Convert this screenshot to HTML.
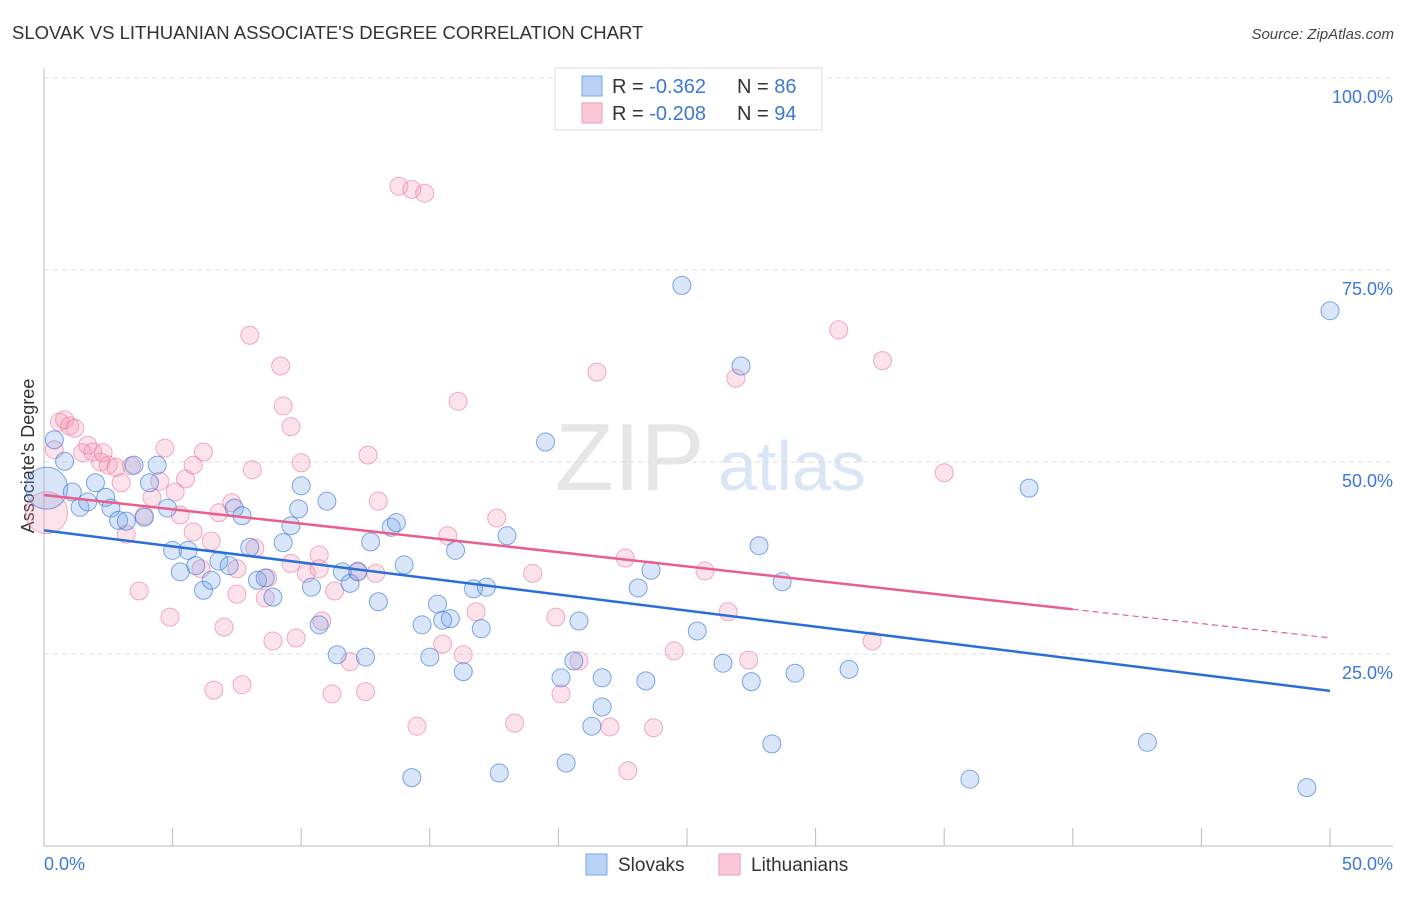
<!DOCTYPE html>
<html><head><meta charset="utf-8"><style>
body{margin:0;background:#fff;font-family:"Liberation Sans",sans-serif;}
svg text{font-family:"Liberation Sans",sans-serif;}
</style></head><body>
<svg id="chart" width="1406" height="892">
<text x="12" y="39" font-size="18.5" fill="#333">SLOVAK VS LITHUANIAN ASSOCIATE'S DEGREE CORRELATION CHART</text>
<text x="1394" y="39" font-size="15" fill="#444" text-anchor="end" font-style="italic">Source: ZipAtlas.com</text>
<text x="555" y="490" font-size="96" fill="#e6e6e6" font-family="Liberation Serif">ZIP</text>
<text x="718" y="490" font-size="70" fill="#dbe6f5">atlas</text>
<text transform="translate(34,456) rotate(-90)" font-size="18" fill="#333" text-anchor="middle">Associate's Degree</text>
<g id="grid"></g><g id="pts"></g><g id="lines"></g>
<g>
<rect x="555" y="68" width="267" height="62" fill="#fff" stroke="#ddd"/>
<rect x="582" y="76" width="20" height="20" fill="#b9d3f5" stroke="#7aa6e6"/>
<rect x="582" y="103" width="20" height="20" fill="#fac8d7" stroke="#ee9bb5"/>
<text x="612" y="93" font-size="20" fill="#333">R = <tspan fill="#3b78d8">-0.362</tspan><tspan x="737">N = </tspan><tspan fill="#3b78d8">86</tspan></text>
<text x="612" y="120" font-size="20" fill="#333">R = <tspan fill="#3b78d8">-0.208</tspan><tspan x="737">N = </tspan><tspan fill="#3b78d8">94</tspan></text>
</g>
<g>
<rect x="586" y="854" width="21" height="21" fill="#b9d3f5" stroke="#7aa6e6"/>
<text x="618" y="871" font-size="19" fill="#333">Slovaks</text>
<rect x="719" y="854" width="21" height="21" fill="#fac8d7" stroke="#ee9bb5"/>
<text x="751" y="871" font-size="19" fill="#333">Lithuanians</text>
</g>
</svg>
<script>
const yTicks=[25,50,75,100];
const yTickLabels=["25.0%","50.0%","75.0%","100.0%"];
const xTicks=[0,5,10,15,20,25,30,35,40,45,50];
const xTickLabels=["0.0%","50.0%"];
const blueX=[0.1,0.4,0.8,1.1,1.4,1.7,2.0,2.4,2.6,2.9,3.2,3.5,3.9,4.1,4.4,4.8,5.0,5.3,5.6,5.9,6.2,6.5,6.8,7.2,7.4,7.7,8.0,8.3,8.6,8.9,9.3,9.6,9.9,10.0,10.4,10.7,11.0,11.4,11.6,11.9,12.2,12.5,12.7,13.0,13.5,13.7,14.0,14.3,14.7,15.0,15.3,15.5,15.8,16.0,16.3,16.7,17.0,17.2,17.7,18.0,19.5,20.1,20.3,20.6,20.8,21.3,21.7,21.7,23.1,23.4,23.6,24.8,25.4,26.4,27.1,27.5,27.8,28.3,28.7,29.2,31.3,36.0,38.3,42.9,49.1,50.0];
const blueY=[46.6,52.9,50.1,46.1,44.1,44.8,47.3,45.4,44.0,42.4,42.3,49.6,42.8,47.3,49.6,44.0,38.5,35.7,38.5,36.5,33.3,34.6,37.1,36.5,44.0,43.0,38.9,34.6,34.9,32.4,39.5,41.7,43.9,46.9,33.7,28.8,44.9,24.9,35.7,34.2,35.7,24.6,39.6,31.8,41.5,42.1,36.6,8.9,28.8,24.6,31.5,29.4,29.6,38.5,22.7,33.5,28.3,33.7,9.5,40.4,52.6,21.9,10.8,24.1,29.3,15.6,18.1,21.9,33.6,21.5,35.9,73.0,28.0,23.8,62.5,21.4,39.1,13.3,34.4,22.5,23.0,8.7,46.6,13.5,7.6,69.7];
const pinkX=[0.1,0.4,0.6,0.8,1.0,1.2,1.5,1.7,1.9,2.2,2.3,2.5,2.8,3.0,3.2,3.4,3.7,3.9,4.2,4.5,4.7,4.9,5.1,5.3,5.5,5.8,5.8,6.1,6.2,6.5,6.6,6.8,7.0,7.3,7.5,7.5,7.7,8.0,8.1,8.2,8.6,8.7,8.9,9.2,9.3,9.6,9.6,9.8,10.0,10.2,10.7,10.7,10.8,11.2,11.3,11.9,12.2,12.5,12.6,12.9,13.0,13.8,14.3,14.8,14.5,15.5,15.7,16.1,16.3,16.8,17.6,18.3,19.0,19.9,20.1,20.8,21.5,22.0,22.6,22.7,23.7,24.5,25.7,26.6,26.9,27.4,30.9,32.2,32.6,35.0];
const pinkY=[43.4,51.6,55.2,55.5,54.7,54.4,51.2,52.2,51.3,50.0,51.2,49.6,49.3,47.3,40.6,49.5,33.2,43.0,45.4,47.5,51.8,29.8,46.1,43.1,47.8,40.9,49.6,36.1,51.3,39.7,20.3,43.4,28.5,44.7,36.1,32.8,21.0,66.5,49.0,38.8,32.3,34.9,26.7,62.5,57.3,54.6,36.8,27.1,49.9,35.5,36.1,37.9,29.3,19.8,33.2,24.0,35.8,20.1,50.9,35.5,44.9,85.9,85.5,85.0,15.6,26.3,40.4,57.9,24.9,30.5,42.7,16.0,35.5,29.8,19.8,24.1,61.7,15.5,37.5,9.8,15.4,25.4,35.8,30.5,60.9,24.2,67.2,26.7,63.2,48.6];
const blueTrend=[41.1,20.2];
const pinkTrend=[45.7,27.1];
const pinkSolidEnd=40;
const NS="http://www.w3.org/2000/svg";
const X=v=>44+v*25.72, Y=v=>846-v*7.68;
function mk(tag,attrs,parent){const e=document.createElementNS(NS,tag);for(const k in attrs)e.setAttribute(k,attrs[k]);parent.appendChild(e);return e;}
const grid=document.getElementById('grid');
yTicks.forEach((t,i)=>{
 const l=mk('line',{x1:44,x2:1393,y1:Y(t),y2:Y(t),stroke:'#ddd','stroke-dasharray':'5,4'},grid);
 
 
 const tx=mk('text',{x:1393,y:Y(t)+25,'font-size':18,fill:'#3b78d8','text-anchor':'end'},grid);
 tx.textContent=yTickLabels[i];
 
 
});
const ax=mk('line',{x1:44,x2:1393,y1:846,y2:846,stroke:'#bbb'},grid);


const ay=mk('line',{x1:44,x2:44,y1:68,y2:846,stroke:'#bbb'},grid);


xTicks.forEach(t=>{
 const l=mk('line',{x1:X(t),x2:X(t),y1:828,y2:846,stroke:'#bbb'},grid);
 
 
});
[[0,'start',44],[50,'end',1393]].forEach((a,i)=>{
 const tx=mk('text',{x:a[2],y:870,'font-size':18,fill:'#3b78d8','text-anchor':a[1]},grid);
 tx.textContent=xTickLabels[i];
 
 
});
const pts=document.getElementById('pts');
function draw(xs,ys,fill,stroke,name){
 xs.forEach((x,i)=>{
  const r=i===0?21:9;
  const c=mk('circle',{cx:X(x),cy:Y(ys[i]),r:r,fill:fill,stroke:stroke,'stroke-width':1},pts);
  
  
 });
}
draw(pinkX,pinkY,'rgba(244,150,180,0.28)','rgba(232,120,156,0.6)','lithuanian-point');
draw(blueX,blueY,'rgba(120,165,235,0.28)','rgba(60,120,215,0.65)','slovak-point');
const lines=document.getElementById('lines');
const bl=mk('line',{x1:X(0),y1:Y(blueTrend[0]),x2:X(50),y2:Y(blueTrend[1]),stroke:'#2a6fd6','stroke-width':2.5},lines);


const pe=pinkTrend[0]+(pinkTrend[1]-pinkTrend[0])*pinkSolidEnd/50;
const pl=mk('line',{x1:X(0),y1:Y(pinkTrend[0]),x2:X(pinkSolidEnd),y2:Y(pe),stroke:'#e8608a','stroke-width':2.5},lines);


const pd=mk('line',{x1:X(pinkSolidEnd),y1:Y(pe),x2:X(50),y2:Y(pinkTrend[1]),stroke:'#e8608a','stroke-width':1.2,'stroke-dasharray':'6,4'},lines);


</script>
</body></html>
